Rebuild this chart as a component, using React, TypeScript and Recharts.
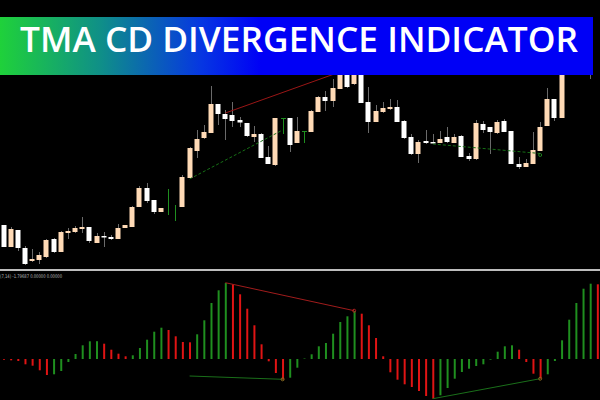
import { ComposedChart, Bar, Cell, XAxis, YAxis, ReferenceLine, ReferenceDot } from "recharts";

// price candles (one per bar, left to right); the last one sits above the visible window
const opens = [75, 53, 70, 52, 39, 40, 43, 61, 48, 67, 68, 71, 73, 57, 64, 63, 61, 72, 73, 93, 112, 100, 88, 111, 95, 93, 122, 149, 162, 167, 196, 186, 185, 180, 177, 163, 166, 143, 135, 182, 182, 157, 169, 168, 188, 203, 199, 211, 230, 216, 232, 198, 178, 188, 191, 193, 179, 163, 146, 159, 158, 157, 163, 157, 164, 144, 141, 176, 173, 167, 179, 169, 136, 133, 136, 149, 174, 201, 182, 238, 252, 262, 265, 304];
const highs = [75, 73, 70, 54, 51, 48, 61, 62, 69, 72, 74, 83, 73, 67, 68, 65, 76, 75, 94, 114, 117, 100, 92, 111, 95, 125, 153, 170, 175, 214, 196, 190, 198, 183, 177, 174, 167, 154, 182, 182, 182, 183, 169, 190, 204, 209, 221, 238, 236, 240, 238, 213, 195, 198, 201, 200, 180, 166, 160, 170, 166, 169, 173, 166, 165, 147, 180, 179, 173, 180, 181, 169, 143, 141, 168, 178, 212, 201, 245, 260, 270, 275, 272, 312];
const lows = [53, 53, 49, 35, 38, 36, 42, 47, 48, 61, 67, 67, 57, 57, 53, 60, 61, 72, 73, 93, 97, 86, 88, 85, 79, 93, 122, 142, 161, 167, 175, 160, 173, 173, 163, 158, 142, 136, 134, 166, 148, 157, 157, 168, 188, 189, 193, 211, 212, 215, 197, 167, 178, 187, 190, 178, 161, 145, 137, 156, 156, 157, 157, 157, 143, 139, 140, 167, 146, 166, 168, 136, 131, 133, 136, 149, 174, 179, 182, 234, 245, 230, 221, 301];
const closes = [53, 71, 52, 36, 41, 45, 60, 48, 68, 69, 72, 73, 59, 64, 62.5, 61, 72, 75, 93, 112, 99, 88, 92, 111, 95, 123, 152, 161, 168, 196, 186, 181, 179, 177.5, 164, 166, 142, 136, 182, 182, 155, 169, 169, 189, 203, 199, 212, 232, 213, 234, 197, 178, 189, 192, 193, 178, 162, 146, 158, 157, 156.5, 161, 158, 163, 143, 141, 177, 170, 168, 178, 168, 136, 133, 137, 150, 173, 201, 182, 240, 255, 265, 270, 245, 309];

// bars the indicator paints green
const signalLines = [23, 24];
const signalTees = [39, 42];

// TMA CD histogram
const hist = [-0.7, -1.3, -2, -5.3, -6.7, -11.3, -16, -15.3, -12, -3, 5, 13.7, 17.7, 17.8, 15.3, 9.3, 5.3, 2.7, 3.7, 11, 19.3, 27.3, 31.3, 29, 22.7, 17, 16.7, 24.7, 38.7, 56, 68.7, 76, 74.7, 64.7, 50.3, 33.7, 14.7, -2.3, -14, -20.7, -18.7, -8.7, 0.5, 4.7, 12.7, 16, 25.3, 37, 42.7, 48, 45.3, 33.7, 21, 2.7, -13.3, -20.7, -25.3, -28, -32, -37, -39.7, -36.3, -29, -19.7, -13, -9.7, -7, -5.3, -0.7, 7.3, 12.7, 13.7, 9.3, -3, -14.7, -19.7, -15.3, -2, 18.7, 39.3, 56, 70.3, 75.3, 74.7];

const title = "TMA CD DIVERGENCE INDICATOR";
const indicatorLabel = "(7,14) -1.79687 0.00000 0.00000";

// divergence lines: [fromBar, fromValue, toBar, toValue]
const priceBear = [31, 187, 47, 228];
const priceBull = [26, 121, 39, 170];
const priceBull2 = [60, 156, 75, 146.5];
const histBear = [31, 76.3, 49, 48.3];
const histBull = [26, -17, 39, -20.3];
const histBull2 = [60, -39.7, 75, -19.7];

const rows = opens.map((o, i) => ({
  i,
  open: o,
  high: highs[i],
  low: lows[i],
  close: closes[i],
  range: [lows[i], highs[i]],
  sig: signalTees.includes(i) ? "tee" : signalLines.includes(i) ? "line" : "",
  v: hist[i],
}));

const GREEN = "#1f8f1f";
const RED = "#e01414";

const Candle = (props: any) => {
  const { x, y, width, height, payload } = props;
  const top = Math.min(y, y + height);
  const h = Math.abs(height);
  const span = payload.high - payload.low || 1;
  const py = (v: number) => top + ((payload.high - v) / span) * h;
  const cx = Math.round(x + width / 2) + 0.5;
  if (payload.sig) {
    return (
      <g>
        <line x1={cx} x2={cx} y1={top} y2={top + h} stroke={GREEN} strokeWidth={1} />
        {payload.sig === "tee" && (
          <line x1={cx - 2.5} x2={cx + 2.5} y1={py(payload.open) + 0.5} y2={py(payload.open) + 0.5} stroke={GREEN} strokeWidth={1} />
        )}
      </g>
    );
  }
  const up = payload.close > payload.open;
  const bTop = py(Math.max(payload.open, payload.close));
  const bBot = py(Math.min(payload.open, payload.close));
  return (
    <g>
      <line x1={cx} x2={cx} y1={top} y2={top + h} stroke="#6a6a6a" strokeWidth={1} />
      <rect x={cx - 3} y={bTop} width={5} height={Math.max(1.5, bBot - bTop)} fill={up ? "#ffdab6" : "#ffffff"} />
    </g>
  );
};

const seg = (s: number[]) => [
  { x: s[0], y: s[1] },
  { x: s[2], y: s[3] },
];

export default function App() {
  return (
    <div style={{ position: "absolute", left: 0, top: 0, width: 600, height: 400, background: "#000", overflow: "hidden" }}>
      <div style={{ position: "absolute", left: 0, top: 0 }}>
        <ComposedChart width={601} height={270} data={rows} margin={{ top: 0, right: 0, bottom: 0, left: 0 }}>
          <XAxis dataKey="i" hide />
          <YAxis hide domain={[30, 300]} allowDataOverflow />
          <Bar dataKey="range" barSize={5} shape={Candle} isAnimationActive={false} />
          <ReferenceLine segment={seg(priceBear)} stroke="#9a1616" strokeWidth={1} />
          <ReferenceLine segment={seg(priceBull)} stroke="#167016" strokeWidth={1} strokeDasharray="3 2" />
          <ReferenceLine segment={seg(priceBull2)} stroke="#167016" strokeWidth={1} strokeDasharray="3 2" />
          <ReferenceDot x={75} y={145} r={1.5} fill="none" stroke="#1f7f1f" />
        </ComposedChart>
      </div>

      <div style={{ position: "absolute", left: 0, top: 269, width: 600, height: 2, background: "#bdbdbd" }} />
      <svg width={120} height={8} style={{ position: "absolute", left: 0, top: 272 }}>
        <text x={0} y={5.5} fontSize={5} fill="#b8b8b8" fontFamily="DejaVu Sans" textLength={62} lengthAdjust="spacingAndGlyphs">
          {indicatorLabel}
        </text>
      </svg>

      <div style={{ position: "absolute", left: 0, top: 280 }}>
        <ComposedChart width={601} height={120} data={rows} margin={{ top: 0, right: 0, bottom: 0, left: 0 }}>
          <XAxis dataKey="i" hide />
          <YAxis hide domain={[-41, 79]} />
          <Bar dataKey="v" barSize={2} isAnimationActive={false}>
            {rows.map((r, i) => (
              <Cell key={i} fill={i > 0 && r.v >= hist[i - 1] ? GREEN : RED} />
            ))}
          </Bar>
          <ReferenceLine segment={seg(histBear)} stroke="#a01c1c" strokeWidth={1} />
          <ReferenceLine segment={seg(histBull)} stroke="#1a6f1a" strokeWidth={1} />
          <ReferenceLine segment={seg(histBull2)} stroke="#1a6f1a" strokeWidth={1} />
          <ReferenceDot x={49} y={48.3} r={1.5} fill="none" stroke="#b02020" />
          <ReferenceDot x={39} y={-20.3} r={1.5} fill="none" stroke="#8a6a20" />
          <ReferenceDot x={75} y={-19.7} r={1.5} fill="none" stroke="#8a6a20" />
        </ComposedChart>
      </div>

      <svg width={593} height={58} style={{ position: "absolute", left: 0, top: 17 }}>
        <defs>
          <linearGradient id="banner" x1="0" x2="1" y1="0" y2="0">
            <stop offset="0%" stopColor="#1fd13a" />
            <stop offset="17%" stopColor="#0f8f88" />
            <stop offset="34%" stopColor="#0636e2" />
            <stop offset="44%" stopColor="#0000f6" />
            <stop offset="100%" stopColor="#0000f6" />
          </linearGradient>
        </defs>
        <rect width={593} height={58} fill="url(#banner)" />
        <text
          x={299}
          y={35}
          textAnchor="middle"
          fontFamily="'Open Sans', sans-serif"
          fontWeight={600}
          fontSize={33.5}
          fill="#ffffff"
          textLength={558}
          lengthAdjust="spacingAndGlyphs"
        >
          {title}
        </text>
      </svg>
    </div>
  );
}
